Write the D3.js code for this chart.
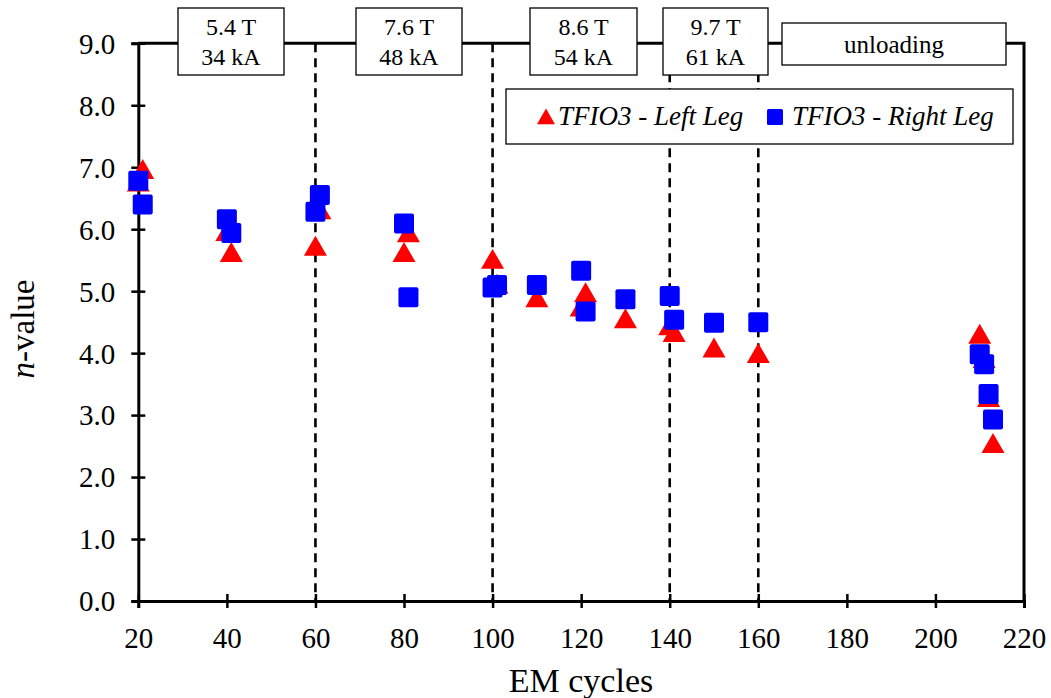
<!DOCTYPE html>
<html>
<head>
<meta charset="utf-8">
<script src="https://d3js.org/d3.v7.min.js"></script>
<style>
body { margin: 0; background: white; }
text { font-family: "Liberation Serif", "Times New Roman", serif; fill: black; }
</style>
</head>
<body>
<svg id="chart" width="1051" height="698"></svg>
<script>
// EM cycles / n-value, left leg (triangles)
var leftX = [20, 21, 40, 41, 60, 61, 80, 81, 100, 101, 110, 120, 121, 130, 140, 141, 150, 160, 210, 211, 212, 213]
var leftN = [6.75, 6.95, 5.95, 5.61, 5.71, 6.3, 5.61, 5.93, 5.5, 5.1, 4.88, 4.73, 4.96, 4.54, 4.43, 4.32, 4.07, 3.98, 4.29, 3.9, 3.27, 2.53]

// right leg (squares)
var rightX = [20, 21, 40, 41, 60, 61, 80, 81, 100, 101, 110, 120, 121, 130, 140, 141, 150, 160, 210, 211, 212, 213]
var rightN = [6.78, 6.4, 6.16, 5.94, 6.28, 6.55, 6.09, 4.9, 5.06, 5.1, 5.1, 5.33, 4.67, 4.87, 4.92, 4.54, 4.49, 4.5, 3.98, 3.82, 3.34, 2.93]

var seriesNames = ['TFIO3 - Left Leg', 'TFIO3 - Right Leg']
var xTicks = [20, 40, 60, 80, 100, 120, 140, 160, 180, 200, 220]
var yTicks = [0, 1, 2, 3, 4, 5, 6, 7, 8, 9]
var stepCycles = [60, 100, 140, 160]
var stepLine1 = ['5.4 T', '7.6 T', '8.6 T', '9.7 T']
var stepLine2 = ['34 kA', '48 kA', '54 kA', '61 kA']

var svg = d3.select('#chart')

var x = d3.scaleLinear().domain([20, 220]).range([138.3, 1024])
var y = d3.scaleLinear().domain([0, 9]).range([601, 43.3])

// frame top / right
svg.append('path')
  .attr('d', 'M' + x(20) + ',' + y(9) + 'H' + x(220) + 'V' + y(0))
  .attr('fill', 'none').attr('stroke', 'black').attr('stroke-width', 3)

// dashed step lines
svg.selectAll('.step')
  .data(stepCycles)
  .enter()
  .append('line')
  .attr('class', 'step')
  .attr('x1', function(d) { return x(d) }).attr('x2', function(d) { return x(d) })
  .attr('y1', y(9)).attr('y2', y(0))
  .attr('stroke', 'black').attr('stroke-width', 2.6)
  .attr('stroke-dasharray', '9,6')

// axes
var yAxis = svg.append('g')
  .attr('transform', 'translate(' + x(20) + ',0)')
  .call(d3.axisLeft(y).tickValues(yTicks).tickSize(7).tickFormat(d3.format('.1f')))
  .attr('font-family', 'Liberation Serif')
  .attr('font-size', 29)
yAxis.select('.domain').attr('stroke-width', 3)
yAxis.selectAll('.tick line').attr('x1', -7).attr('x2', 7).attr('stroke-width', 2.5)
yAxis.selectAll('.tick text')
  .attr('x', -23).attr('dy', '0.34em')

var xAxis = svg.append('g')
  .attr('transform', 'translate(0,' + y(0) + ')')
  .call(d3.axisBottom(x).tickValues(xTicks).tickSize(7))
  .attr('font-family', 'Liberation Serif')
  .attr('font-size', 29)
xAxis.select('.domain').attr('stroke-width', 3)
xAxis.selectAll('.tick line').attr('y1', -7).attr('y2', 7).attr('stroke-width', 2.5)
xAxis.selectAll('.tick text')
  .attr('y', 47).attr('dy', 0)

svg.append('text')
  .attr('x', 581).attr('y', 692)
  .attr('text-anchor', 'middle')
  .style('font-size', '34px')
  .text('EM cycles')

var yt = svg.append('text')
  .attr('transform', 'translate(34,329) rotate(-90)')
  .attr('text-anchor', 'middle')
  .style('font-size', '33px')
yt.append('tspan').style('font-style', 'italic').text('n')
yt.append('tspan').text('-value')

// markers
var tri = d3.symbol().type(d3.symbolTriangle).size(230)

svg.append('g').selectAll('path')
  .data(leftX)
  .enter()
  .append('path')
  .attr('d', tri)
  .attr('transform', function(d, i) { return 'translate(' + x(d) + ',' + (y(leftN[i]) + 2) + ')' })
  .attr('fill', '#ff0000')

svg.append('g').selectAll('rect')
  .data(rightX)
  .enter()
  .append('rect')
  .attr('x', function(d) { return x(d) - 10 })
  .attr('y', function(d, i) { return y(rightN[i]) - 10 })
  .attr('width', 20).attr('height', 20)
  .attr('rx', 2)
  .attr('fill', '#0000ff')

// step boxes
var boxLeft = [178, 356, 530, 663]
var boxRight = [284, 462, 637, 768]
stepLine1.forEach(function(t, i) {
  svg.append('rect')
    .attr('x', boxLeft[i]).attr('y', 8)
    .attr('width', boxRight[i] - boxLeft[i]).attr('height', 67)
    .attr('fill', 'white').attr('stroke', 'black').attr('stroke-width', 1.3)
  var cx = (boxLeft[i] + boxRight[i]) / 2
  svg.append('text').attr('x', cx).attr('y', 35).attr('text-anchor', 'middle')
    .style('font-size', '24px').text(t)
  svg.append('text').attr('x', cx).attr('y', 65).attr('text-anchor', 'middle')
    .style('font-size', '24px').text(stepLine2[i])
})

svg.append('rect')
  .attr('x', 782).attr('y', 23).attr('width', 224).attr('height', 42)
  .attr('fill', 'white').attr('stroke', 'black').attr('stroke-width', 1.3)
svg.append('text').attr('x', 894).attr('y', 53).attr('text-anchor', 'middle')
  .style('font-size', '25px').text('unloading')

// legend
svg.append('rect')
  .attr('x', 506).attr('y', 89).attr('width', 507).attr('height', 55)
  .attr('fill', 'white').attr('stroke', 'black').attr('stroke-width', 1.3)
svg.append('path')
  .attr('d', d3.symbol().type(d3.symbolTriangle).size(140))
  .attr('transform', 'translate(546,119)')
  .attr('fill', '#ff0000')
svg.append('rect')
  .attr('x', 767).attr('y', 109).attr('width', 16).attr('height', 16).attr('rx', 1.5)
  .attr('fill', '#0000ff')
svg.append('text').attr('x', 558).attr('y', 125)
  .style('font-size', '27px').style('font-style', 'italic').text(seriesNames[0])
svg.append('text').attr('x', 792).attr('y', 125)
  .style('font-size', '27px').style('font-style', 'italic').text(seriesNames[1])
</script>
</body>
</html>
